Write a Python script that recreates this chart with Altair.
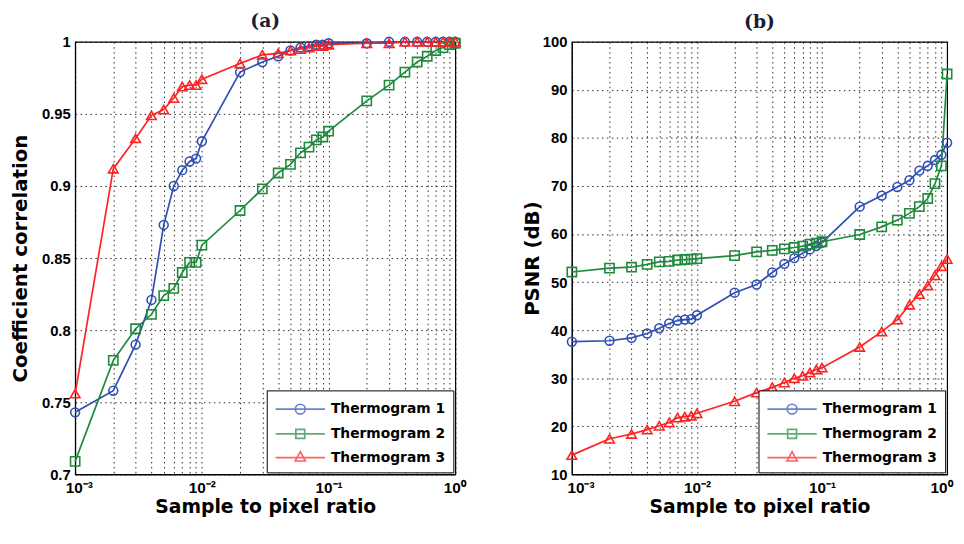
import altair as alt
import pandas as pd

ratios = [0.001, 0.002, 0.003, 0.004, 0.005, 0.006, 0.007, 0.008, 0.009,
          0.01, 0.02, 0.03, 0.04, 0.05, 0.06, 0.07, 0.08, 0.09,
          0.1, 0.2, 0.3, 0.4, 0.5, 0.6, 0.7, 0.8, 0.9, 1.0]

names = ["Thermogram 1", "Thermogram 2", "Thermogram 3"]
colors = ["#2f4fb2", "#1e8a3c", "#ff2222"]

corr_t1 = [0.743, 0.758, 0.790, 0.821, 0.873, 0.900, 0.911, 0.917, 0.919,
           0.931, 0.979, 0.986, 0.990, 0.994, 0.996, 0.997, 0.998, 0.998,
           0.999, 0.999, 1.0, 1.0, 1.0, 1.0, 1.0, 1.0, 1.0, 1.0]
corr_t2 = [0.709, 0.779, 0.801, 0.811, 0.824, 0.829, 0.840, 0.847, 0.847,
           0.859, 0.883, 0.898, 0.909, 0.915, 0.923, 0.927, 0.932, 0.934,
           0.938, 0.959, 0.970, 0.979, 0.986, 0.990, 0.994, 0.996, 0.998, 0.999]
corr_t3 = [0.756, 0.912, 0.933, 0.949, 0.953, 0.961, 0.969, 0.970, 0.970,
           0.974, 0.985, 0.991, 0.992, 0.994, 0.995, 0.996, 0.997, 0.997,
           0.998, 0.999, 0.999, 1.0, 1.0, 1.0, 1.0, 1.0, 1.0, 1.0]

psnr_t1 = [37.6, 37.8, 38.4, 39.3, 40.4, 41.4, 42.0, 42.2, 42.3,
           43.1, 47.8, 49.5, 52.0, 53.8, 55.0, 56.0, 56.8, 57.5,
           58.2, 65.7, 68.0, 69.8, 71.2, 73.2, 74.2, 75.4, 76.5, 79.0]
psnr_t2 = [52.1, 52.9, 53.1, 53.7, 54.2, 54.3, 54.6, 54.7, 54.8,
           54.9, 55.5, 56.3, 56.6, 56.9, 57.2, 57.5, 57.9, 58.1,
           58.4, 59.9, 61.5, 62.9, 64.3, 65.7, 67.4, 70.5, 74.2, 93.3]
psnr_t3 = [14.0, 17.4, 18.4, 19.3, 20.1, 20.8, 21.8, 22.0, 22.2,
           22.7, 25.2, 27.0, 28.1, 29.1, 30.0, 30.5, 31.2, 31.8,
           32.2, 36.5, 39.7, 42.2, 45.3, 47.5, 49.3, 51.4, 53.3, 54.8]

grid_x = [round(k * 10 ** e, 6) for e in (-3, -2, -1) for k in range(1, 10)] + [1.0]
corr_ticks = [0.7, 0.75, 0.8, 0.85, 0.9, 0.95, 1.0]
psnr_ticks = [10, 20, 30, 40, 50, 60, 70, 80, 90, 100]


def long_df(series):
    rows = []
    for name, vals in zip(names, series):
        for r, v in zip(ratios, vals):
            rows.append({"ratio": r, "value": v, "series": name})
    return pd.DataFrame(rows)


df_a = long_df([corr_t1, corr_t2, corr_t3])
df_b = long_df([psnr_t1, psnr_t2, psnr_t3])

FONT = "Liberation Sans"
TFONT = "DejaVu Sans"
line_paths = [
    "M-2.5,0H2.5M0.5,0A0.5,0.5,0,1,1,-0.5,0A0.5,0.5,0,1,1,0.5,0Z",
    "M-2.5,0H2.5M-0.45,-0.45H0.45V0.45H-0.45Z",
    "M-2.5,0H2.5M0,-0.6L0.52,0.35H-0.52Z",
]

label_expr = ("abs(datum.value-0.001)<1e-9 ? '10⁻³' : abs(datum.value-0.01)<1e-9 ? '10⁻²' : "
              "abs(datum.value-0.1)<1e-9 ? '10⁻¹' : abs(datum.value-1)<1e-9 ? '10⁰' : ''")


def panel(df, ytitle, ydomain, yvals, yfmt, title, width, ytp, flush_off):
    base = alt.Chart(df)
    x = alt.X("ratio:Q",
              scale=alt.Scale(type="log", domain=[0.001, 1], nice=False, padding=0),
              axis=alt.Axis(values=grid_x, labelExpr=label_expr, labelOverlap=False,
                            labelFlush=True, labelFlushOffset=flush_off,
                            title="Sample to pixel ratio", ticks=False,
                            grid=True, gridDash=[1.5, 3.5], gridColor="black", gridOpacity=0.85,
                            labelFont=FONT, labelFontWeight="bold", labelFontSize=15.5,
                            labelColor="black", labelPadding=6,
                            titleFont=TFONT, titleFontWeight="bold", titleFontSize=19,
                            titleColor="black", titlePadding=2,
                            domainColor="black"))
    y = alt.Y("value:Q",
              scale=alt.Scale(domain=ydomain, nice=False, zero=False, padding=0),
              axis=alt.Axis(values=yvals, format=yfmt, title=ytitle, ticks=False,
                            grid=True, gridDash=[1.5, 3.5], gridColor="black", gridOpacity=0.85,
                            labelFont=FONT, labelFontWeight="bold", labelFontSize=15,
                            labelColor="black", labelPadding=5,
                            titleFont=TFONT, titleFontWeight="bold", titleFontSize=20,
                            titleColor="black", titlePadding=ytp,
                            domainColor="black"))
    col_nl = alt.Color("series:N", scale=alt.Scale(domain=names, range=colors), legend=None)
    line = base.mark_line(strokeWidth=1.7, clip=False).encode(x=x, y=y, color=col_nl)
    pts = base.mark_point(filled=False, strokeWidth=1.6, opacity=1).encode(
        x=x, y=y, color=col_nl,
        size=alt.Size("series:N", scale=alt.Scale(domain=names, range=[80, 95, 100]), legend=None),
        shape=alt.Shape("series:N",
                        scale=alt.Scale(domain=names, range=["circle", "square", "triangle-up"]),
                        legend=None))
    leg_common = dict(title=None, orient="bottom-right", offset=2,
                      symbolSize=400, symbolStrokeWidth=1.7, symbolOffset=15,
                      labelFont=TFONT, labelFontWeight="bold", labelFontSize=14,
                      labelColor="black", labelOffset=20, rowPadding=5,
                      padding=8, strokeColor="black", fillColor="white")
    leg = base.transform_filter("false").mark_point(filled=False, strokeWidth=1.7).encode(
        x=x, y=y,
        color=alt.Color("series:N", scale=alt.Scale(domain=names, range=colors),
                        legend=alt.Legend(**leg_common)),
        shape=alt.Shape("series:N", scale=alt.Scale(domain=names, range=line_paths),
                        legend=alt.Legend(**leg_common)))
    return alt.layer(line, pts, leg).resolve_scale(
        shape="independent", color="independent", size="independent").properties(
        width=width, height=438,
        title=alt.TitleParams(title, font="DejaVu Serif", fontSize=19, fontWeight="bold",
                              color="#1c1c38", offset=3))


pa = panel(df_a, "Coefficient correlation", [0.7, 1.0], corr_ticks, ".2~f", "(a)", 385, 11, 10)
pb = panel(df_b, "PSNR (dB)", [10, 100], psnr_ticks, "d", "(b)", 380, 0, 5)

chart = alt.hconcat(pa, pb, spacing=56).configure_view(stroke="black", strokeWidth=1.2).properties(
    padding={"left": 2, "right": 0, "top": 0, "bottom": 0})

chart.save("out.html", embed_options={"renderer": "svg", "actions": False})
